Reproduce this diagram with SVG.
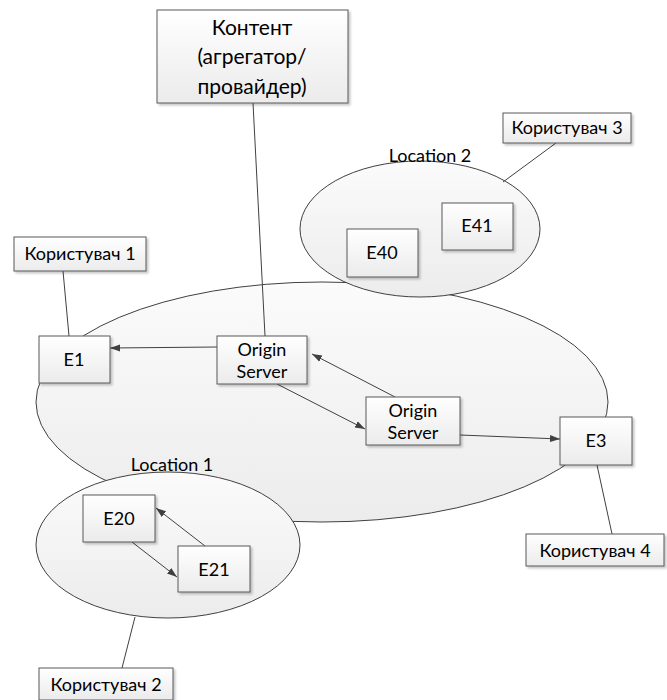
<svg xmlns="http://www.w3.org/2000/svg" width="667" height="700" viewBox="0 0 667 700">
  <defs>
    <linearGradient id="boxFill" x1="0" y1="0" x2="0" y2="1">
      <stop offset="0" stop-color="#ffffff"/>
      <stop offset="1" stop-color="#ebebeb"/>
    </linearGradient>
    <linearGradient id="ellFill" x1="0" y1="0" x2="0" y2="1">
      <stop offset="0" stop-color="#fbfbfb"/>
      <stop offset="1" stop-color="#ececec"/>
    </linearGradient>
    <filter id="shadow" x="-10%" y="-10%" width="130%" height="130%">
      <feDropShadow dx="2" dy="2" stdDeviation="1" flood-color="#000" flood-opacity="0.22"/>
    </filter>
    <marker id="arrow" viewBox="0 0 10 10" refX="10" refY="5" markerWidth="10" markerHeight="10" markerUnits="userSpaceOnUse" orient="auto">
      <path d="M0,1.5 L10,5 L0,8.5 z" fill="#404040"/>
    </marker>
  </defs>
  <style>
    .box { fill: url(#boxFill); stroke: #595959; stroke-width: 1; filter: url(#shadow); }
    .ell { fill: url(#ellFill); stroke: #404040; stroke-width: 1; }
    .t { font-family: Lato, "Open Sans", "Liberation Sans", sans-serif; font-size: 18px; fill: #000; text-anchor: middle; }
    .big { font-size: 21px; }
    .line { stroke: #404040; stroke-width: 1; fill: none; }
    .arr { stroke: #404040; stroke-width: 1; fill: none; marker-end: url(#arrow); }
  </style>

  <rect width="667" height="700" fill="#ffffff"/>

  <!-- regions -->
  <g id="region-main">
    <ellipse class="ell" cx="322" cy="402" rx="286" ry="120"/>
  </g>
  <g id="region-location2">
    <ellipse class="ell" cx="420" cy="229" rx="120" ry="68"/>
    <text class="t" x="430" y="162">Location 2</text>
  </g>
  <g id="region-location1">
    <ellipse class="ell" cx="168" cy="545" rx="132" ry="73"/>
    <text class="t" x="172" y="471">Location 1</text>
  </g>

  <!-- connectors -->
  <g id="connectors">
    <line class="line" x1="253" y1="103" x2="265" y2="336"/>
    <line class="line" x1="556" y1="143" x2="503" y2="182"/>
    <line class="line" x1="63" y1="271" x2="69" y2="336"/>
    <line class="line" x1="597" y1="465" x2="612" y2="534"/>
    <line class="line" x1="135" y1="617" x2="122" y2="668"/>
    <line class="arr" x1="217" y1="347" x2="110" y2="348"/>
    <line class="arr" x1="395" y1="397" x2="312" y2="354"/>
    <line class="arr" x1="277" y1="384" x2="365" y2="429"/>
    <line class="arr" x1="460" y1="435" x2="560" y2="439"/>
    <line class="arr" x1="205" y1="546" x2="156" y2="508"/>
    <line class="arr" x1="132" y1="542" x2="177" y2="577"/>
  </g>

  <!-- nodes -->
  <g id="content">
    <rect class="box" x="157" y="10" width="191" height="93"/>
    <text class="t big" x="252" y="35">Контент</text>
    <text class="t big" x="252" y="64">(агрегатор/</text>
    <text class="t big" x="252" y="94">провайдер)</text>
  </g>
  <g id="user3">
    <rect class="box" x="503" y="113" width="128" height="30"/>
    <text class="t" x="567" y="134">Користувач 3</text>
  </g>
  <g id="e40">
    <rect class="box" x="347" y="229" width="71" height="48"/>
    <text class="t" x="382" y="259">E40</text>
  </g>
  <g id="e41">
    <rect class="box" x="442" y="203" width="71" height="47"/>
    <text class="t" x="477" y="232">E41</text>
  </g>
  <g id="user1">
    <rect class="box" x="14" y="237" width="132" height="34"/>
    <text class="t" x="80" y="260">Користувач 1</text>
  </g>
  <g id="e1">
    <rect class="box" x="39" y="336" width="71" height="47"/>
    <text class="t" x="74" y="366">E1</text>
  </g>
  <g id="origin1">
    <rect class="box" x="217" y="336" width="90" height="48"/>
    <text class="t" x="262" y="356">Origin</text>
    <text class="t" x="262" y="378">Server</text>
  </g>
  <g id="origin2">
    <rect class="box" x="366" y="397" width="94" height="48"/>
    <text class="t" x="413" y="417">Origin</text>
    <text class="t" x="413" y="439">Server</text>
  </g>
  <g id="e3">
    <rect class="box" x="560" y="417" width="72" height="48"/>
    <text class="t" x="596" y="447">E3</text>
  </g>
  <g id="user4">
    <rect class="box" x="526" y="534" width="138" height="32"/>
    <text class="t" x="595" y="557">Користувач 4</text>
  </g>
  <g id="e20">
    <rect class="box" x="83" y="495" width="72" height="47"/>
    <text class="t" x="119" y="525">E20</text>
  </g>
  <g id="e21">
    <rect class="box" x="178" y="546" width="72" height="46"/>
    <text class="t" x="214" y="576">E21</text>
  </g>
  <g id="user2">
    <rect class="box" x="39" y="668" width="134" height="32"/>
    <text class="t" x="106" y="691">Користувач 2</text>
  </g>
</svg>
